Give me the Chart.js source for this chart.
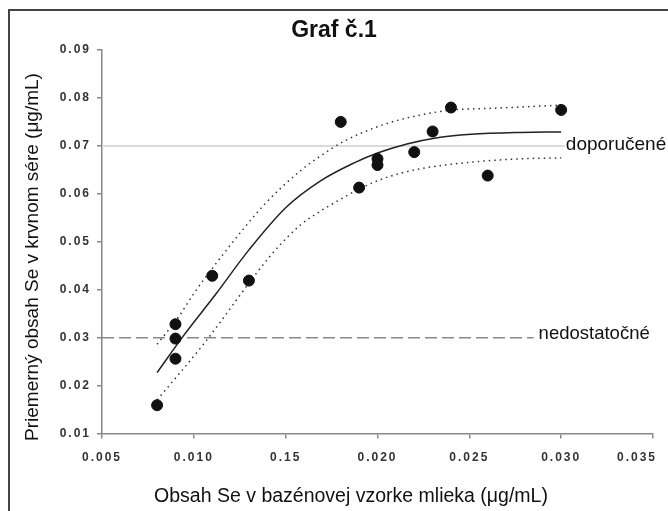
<!DOCTYPE html>
<html>
<head>
<meta charset="utf-8">
<script src="https://cdn.jsdelivr.net/npm/chart.js@4.4.0/dist/chart.umd.min.js"></script>
<style>
  body { margin: 0; background: #fff; }
  canvas { display: block; }
</style>
</head>
<body>
<canvas id="graf" width="668" height="511"></canvas>
<script>
// axis ticks (the 0.15 label is a typo in the original, kept as is)
const xTickValues = [0.005, 0.010, 0.015, 0.020, 0.025, 0.030, 0.035];
const xTickLabels = ['0.005', '0.010', '0.15', '0.020', '0.025', '0.030', '0.035      '];
const yTickValues = [0.01, 0.02, 0.03, 0.04, 0.05, 0.06, 0.07, 0.08, 0.09];
const yTickLabels = ['0.01', '0.02', '0.03', '0.04', '0.05', '0.06', '0.07', '0.08', '0.09'];

// samples: Se in pooled milk vs mean Se in blood serum
const milkSe  = [0.008, 0.009, 0.009, 0.009, 0.011, 0.013, 0.018, 0.019, 0.020, 0.020, 0.022, 0.023, 0.024, 0.026, 0.030];
const serumSe = [0.0159, 0.0328, 0.0298, 0.0256, 0.0429, 0.0419, 0.0750, 0.0613, 0.0673, 0.0660, 0.0687, 0.0730, 0.0780, 0.0638, 0.0775];

// fitted curve and its dotted bands
const fitX = [0.0080, 0.0094, 0.0112, 0.0130, 0.0150, 0.0169, 0.0187, 0.0200, 0.0216, 0.0231, 0.0251, 0.0278, 0.0300];
const fitY = [0.0227, 0.0302, 0.0391, 0.0483, 0.0571, 0.0627, 0.0664, 0.0685, 0.0704, 0.0716, 0.0724, 0.0728, 0.0729];
const upperX = [0.0080, 0.0092, 0.0100, 0.0116, 0.0139, 0.0158, 0.0169, 0.0182, 0.0203, 0.0223, 0.0241, 0.0260, 0.0300];
const upperY = [0.0286, 0.0345, 0.0392, 0.0474, 0.0580, 0.0648, 0.0679, 0.0710, 0.0744, 0.0764, 0.0775, 0.0778, 0.0785];
const lowerX = [0.0080, 0.0105, 0.0142, 0.0158, 0.0169, 0.0180, 0.0190, 0.0204, 0.0223, 0.0251, 0.0278, 0.0300];
const lowerY = [0.0170, 0.0285, 0.0472, 0.0535, 0.0564, 0.0589, 0.0610, 0.0633, 0.0652, 0.0666, 0.0673, 0.0675];

// reference levels
const recommended = 0.07;
const deficient = 0.03;
const recommendedEnd = 0.0302;
const deficientEnd = 0.0285;

const toXY = (xs, ys) => xs.map((x, i) => ({ x: x, y: ys[i] }));

const decorations = {
  id: 'decorations',
  beforeDraw(chart) {
    const ctx = chart.ctx;
    ctx.save();
    ctx.fillStyle = '#fff';
    ctx.fillRect(0, 0, chart.width, chart.height);
    // frame
    ctx.strokeStyle = '#444';
    ctx.lineWidth = 2;
    ctx.beginPath();
    ctx.moveTo(9, chart.height);
    ctx.lineTo(9, 10);
    ctx.lineTo(chart.width, 10);
    ctx.stroke();
    ctx.restore();
    ctx.letterSpacing = '2px';
  },
  beforeDatasetsDraw(chart) {
    chart.ctx.letterSpacing = '0px';
  },
  afterDatasetsDraw(chart) {
    const ctx = chart.ctx;
    const x = chart.scales.x, y = chart.scales.y;
    ctx.save();
    ctx.fillStyle = '#111';
    ctx.font = 'bold 23px "Liberation Sans", Arial, sans-serif';
    ctx.textAlign = 'center';
    ctx.textBaseline = 'middle';
    ctx.fillText('Graf č.1', 334, 31);

    ctx.font = '19.5px "Liberation Sans", Arial, sans-serif';
    ctx.fillText('Obsah Se v bazénovej vzorke mlieka (μg/mL)', 351, 497);
    ctx.font = '19px "Liberation Sans", Arial, sans-serif';
    ctx.save();
    ctx.translate(33, 257);
    ctx.rotate(-Math.PI / 2);
    ctx.fillText('Priemerný obsah Se v krvnom sére (μg/mL)', 0, 0);
    ctx.restore();

    ctx.textAlign = 'left';
    ctx.textBaseline = 'alphabetic';
    ctx.fillText('doporučené', x.getPixelForValue(recommendedEnd) + 1, y.getPixelForValue(recommended) + 4);
    ctx.font = '18.5px "Liberation Sans", Arial, sans-serif';
    ctx.fillText('nedostatočné', x.getPixelForValue(deficientEnd) + 5, y.getPixelForValue(deficient) + 1);
    ctx.restore();
  }
};

new Chart(document.getElementById('graf'), {
  type: 'scatter',
  data: {
    datasets: [
      {
        label: 'vzorky',
        data: toXY(milkSe, serumSe),
        backgroundColor: '#111',
        borderColor: '#111',
        pointRadius: 5.5,
        pointHoverRadius: 5.5
      },
      {
        label: 'fit',
        data: toXY(fitX, fitY),
        showLine: true,
        borderColor: '#222',
        borderWidth: 1.5,
        pointRadius: 0,
        cubicInterpolationMode: 'monotone'
      },
      {
        label: 'horná hranica',
        data: toXY(upperX, upperY),
        showLine: true,
        borderColor: '#333',
        borderWidth: 1.5,
        borderDash: [1.5, 4],
        pointRadius: 0,
        cubicInterpolationMode: 'monotone'
      },
      {
        label: 'dolná hranica',
        data: toXY(lowerX, lowerY),
        showLine: true,
        borderColor: '#333',
        borderWidth: 1.5,
        borderDash: [1.5, 4],
        pointRadius: 0,
        cubicInterpolationMode: 'monotone'
      },
      {
        label: 'nedostatočné',
        data: [{ x: xTickValues[0], y: deficient }, { x: deficientEnd, y: deficient }],
        showLine: true,
        borderColor: '#8a8a8a',
        borderWidth: 1.5,
        borderDash: [12, 5],
        pointRadius: 0
      },
      {
        label: 'doporučené',
        data: [{ x: xTickValues[0], y: recommended }, { x: recommendedEnd, y: recommended }],
        showLine: true,
        borderColor: '#cfcfcf',
        borderWidth: 1.5,
        pointRadius: 0
      }
    ]
  },
  options: {
    responsive: false,
    animation: false,
    devicePixelRatio: 1,
    layout: { padding: { left: 0, right: 15, top: 50, bottom: 0 } },
    plugins: {
      legend: { display: false },
      title: { display: false },
      tooltip: { enabled: false }
    },
    scales: {
      x: {
        type: 'linear',
        min: xTickValues[0],
        max: xTickValues[xTickValues.length - 1],
        afterBuildTicks: (scale) => { scale.ticks = xTickValues.map(v => ({ value: v })); },
        afterFit: (scale) => { scale.height = 77.5; scale.paddingLeft = 0; scale.paddingRight = 0; },
        grid: { drawOnChartArea: false, drawTicks: true, tickLength: 5, color: '#888', lineWidth: 1.5 },
        border: { color: '#888', width: 1.5 },
        ticks: {
          autoSkip: false,
          maxRotation: 0,
          padding: 12,
          color: '#333',
          font: { family: '"Liberation Sans", Arial, sans-serif', size: 12, weight: 'bold' },
          callback: (v, i) => xTickLabels[i]
        }
      },
      y: {
        type: 'linear',
        min: yTickValues[0],
        max: yTickValues[yTickValues.length - 1],
        afterBuildTicks: (scale) => { scale.ticks = yTickValues.map(v => ({ value: v })); },
        afterFit: (scale) => { scale.width = 102; scale.paddingTop = 0; scale.paddingBottom = 0; },
        grid: { drawOnChartArea: false, drawTicks: true, tickLength: 5, color: '#888', lineWidth: 1.5 },
        border: { color: '#888', width: 1.5 },
        ticks: {
          padding: 6,
          color: '#333',
          font: { family: '"Liberation Sans", Arial, sans-serif', size: 12, weight: 'bold' },
          callback: (v, i) => yTickLabels[i]
        }
      }
    }
  },
  plugins: [decorations]
});
</script>
</body>
</html>
